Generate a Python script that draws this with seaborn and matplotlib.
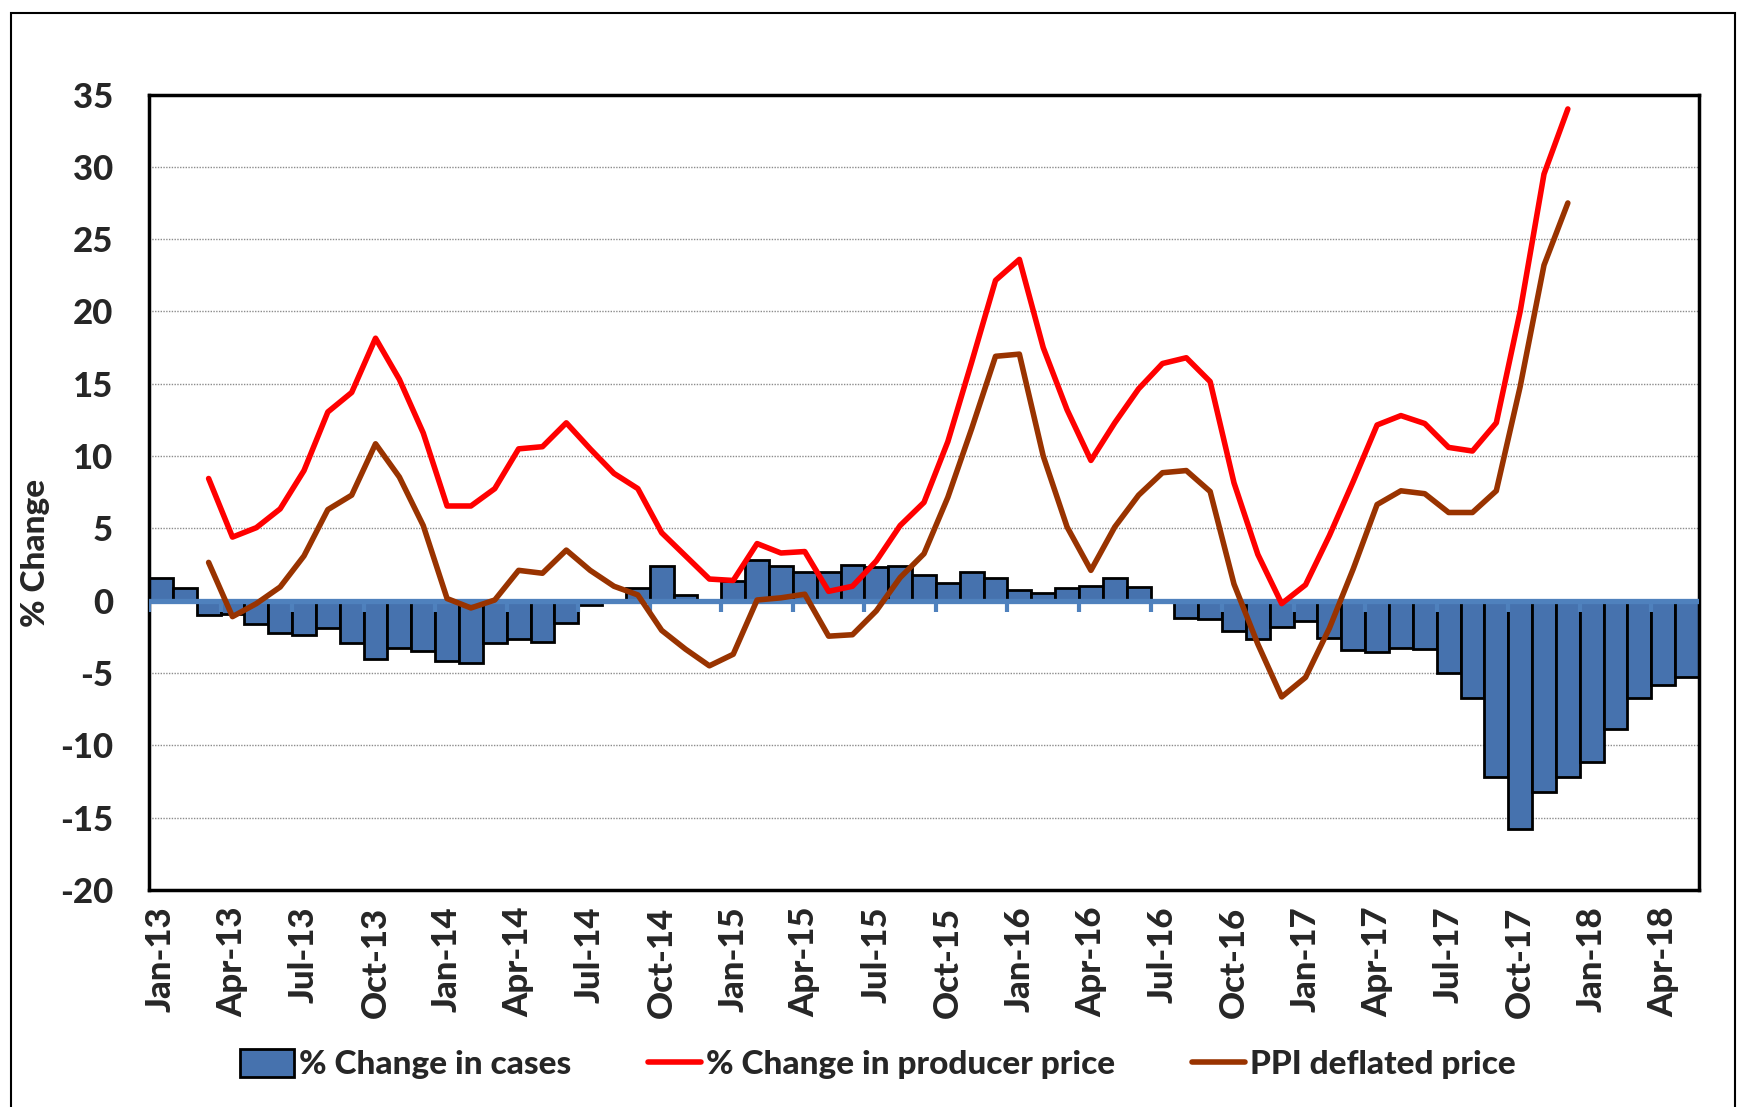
import numpy as np
import pandas as pd
import matplotlib
matplotlib.use("Agg")
import matplotlib.pyplot as plt
from matplotlib.patches import Rectangle
import seaborn as sns

# Monthly series, Jan-13 .. May-18
months = pd.date_range("2013-01-01", periods=65, freq="MS").strftime("%b-%y").tolist()

cases_change = [1.6, 0.9, -1.0, -0.95, -1.6, -2.25, -2.4, -1.9, -2.9, -4.0,
                -3.3, -3.45, -4.15, -4.3, -2.9, -2.65, -2.85, -1.55, -0.3, 0.0,
                0.85, 2.37, 0.4, 0.0, 1.35, 2.8, 2.4, 2.0, 2.0, 2.45,
                2.3, 2.4, 1.8, 1.25, 2.0, 1.6, 0.75, 0.55, 0.9, 1.05,
                1.55, 0.95, 0.0, -1.2, -1.25, -2.1, -2.65, -1.8, -1.4, -2.6,
                -3.4, -3.55, -3.25, -3.35, -5.0, -6.75, -12.2, -15.75, -13.25, -12.2,
                -11.15, -8.85, -6.75, -5.8, -5.3]

producer_price = [np.nan, np.nan, 8.45, 4.4, 5.05, 6.35, 9.0, 13.05, 14.4, 18.15,
                  15.3, 11.6, 6.55, 6.55, 7.75, 10.5, 10.65, 12.3, 10.5, 8.8,
                  7.75, 4.7, 3.1, 1.5, 1.4, 3.95, 3.3, 3.4, 0.65, 1.0,
                  2.75, 5.2, 6.8, 11.0, 16.5, 22.15, 23.6, 17.5, 13.2, 9.7,
                  12.3, 14.65, 16.4, 16.8, 15.15, 8.15, 3.2, -0.2, 1.1, 4.5,
                  8.25, 12.15, 12.8, 12.25, 10.6, 10.35, 12.3, 20.0, 29.5, 34.0,
                  np.nan, np.nan, np.nan, np.nan, np.nan]

ppi_deflated = [np.nan, np.nan, 2.65, -1.1, -0.2, 0.95, 3.1, 6.3, 7.3, 10.85,
                8.55, 5.2, 0.15, -0.5, 0.05, 2.1, 1.9, 3.5, 2.1, 1.0,
                0.4, -2.05, -3.35, -4.5, -3.7, 0.05, 0.2, 0.45, -2.45, -2.35,
                -0.7, 1.6, 3.25, 7.15, 11.9, 16.9, 17.05, 10.0, 5.1, 2.1,
                5.1, 7.3, 8.85, 9.0, 7.55, 1.15, -3.0, -6.65, -5.3, -1.9,
                2.2, 6.65, 7.6, 7.4, 6.1, 6.1, 7.6, 14.8, 23.2, 27.5,
                np.nan, np.nan, np.nan, np.nan, np.nan]

df = pd.DataFrame({
    "month": months,
    "pos": np.arange(len(months)),
    "cases": cases_change,
    "price": producer_price,
    "ppi": ppi_deflated,
})

sns.set_style("white")
plt.rcParams["font.family"] = ["Lato", "DejaVu Sans"]
plt.rcParams["font.weight"] = 900
plt.rcParams["axes.unicode_minus"] = False
heavy = 900

fig = plt.figure(figsize=(17.43, 11.07), dpi=100)
ax = fig.add_axes([149 / 1743, 1 - 890 / 1107, 1550 / 1743, (890 - 94.5) / 1107])

bar_blue = "#4672AE"
axis_blue = "#4F81BD"

# bars
sns.barplot(data=df, x="pos", y="cases", color=bar_blue, width=1.0,
            edgecolor="black", linewidth=2, saturation=1, ax=ax,
            label="% Change in cases", zorder=2)

# lines
sns.lineplot(data=df, x="pos", y="price", color="#FF0000", linewidth=4,
             ax=ax, label="% Change in producer price", zorder=5)
sns.lineplot(data=df, x="pos", y="ppi", color="#993300", linewidth=4,
             ax=ax, label="PPI deflated price", zorder=5)

# blue zero axis with tick marks between quarters
ax.axhline(0, color=axis_blue, linewidth=3.8, zorder=4)
quarter_edges = df["pos"].values[::3] - 0.5
ax.vlines(quarter_edges, -0.75, 0, color=axis_blue, linewidth=3, zorder=4)

ax.set_xlim(-0.5, len(months) - 0.5)
ax.set_ylim(-20, 35)
ax.set_yticks(np.arange(-20, 36, 5))
ax.yaxis.grid(True, linestyle=(0, (1, 1)), color="#8C8C8C", linewidth=1.0)
ax.set_axisbelow(True)

ax.set_xticks(df["pos"].values[::3])
ax.set_xticklabels(df["month"].values[::3], rotation=90, fontsize=25, fontweight=heavy)
ax.tick_params(axis="x", length=0, pad=12)
ax.tick_params(axis="y", direction="out", length=10, width=1.5, color="black",
               labelsize=25, pad=16)
for lbl in ax.get_yticklabels():
    lbl.set_fontweight(heavy)

for sp in ax.spines.values():
    sp.set_color("black")
    sp.set_linewidth(2.5)

ax.set_xlabel("")
ax.set_ylabel("% Change", fontsize=24, fontweight=heavy)
ax.yaxis.set_label_coords(-0.064, 0.424)

handles, labels = ax.get_legend_handles_labels()
order = [labels.index("% Change in cases"),
         labels.index("% Change in producer price"),
         labels.index("PPI deflated price")]
if ax.get_legend() is not None:
    ax.get_legend().remove()
fig.legend([handles[i] for i in order], [labels[i] for i in order],
           loc="center", bbox_to_anchor=(878 / 1743, 1 - 1064 / 1107),
           ncol=3, frameon=False, handlelength=1.6, handleheight=0.9,
           handletextpad=0.15, columnspacing=2.3,
           prop={"weight": heavy, "size": 24})

# outer chart border
fig.add_artist(Rectangle((11 / 1743, -0.01), (1735 - 11) / 1743, 1 - 13 / 1107 + 0.01,
                         transform=fig.transFigure, fill=False, edgecolor="black",
                         linewidth=1.5))

fig.savefig("out.png", dpi=100)
